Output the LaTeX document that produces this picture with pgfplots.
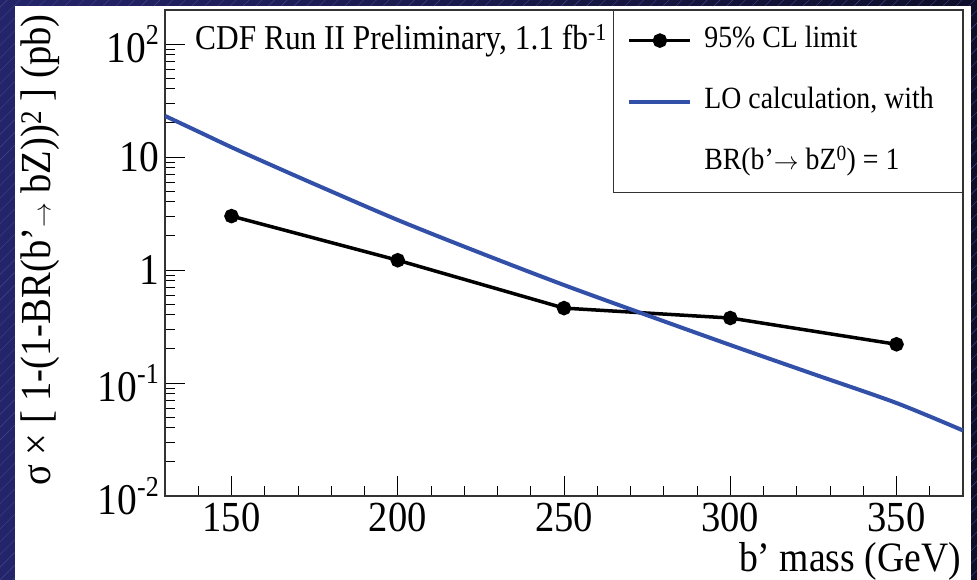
\documentclass[border=0pt]{standalone}
\usepackage{fontspec}
\setmainfont{Liberation Serif}[FakeStretch=0.9]
\usepackage{pgfplots}
\pgfplotsset{compat=1.18}
\usetikzlibrary{patterns.meta}
\definecolor{navyL}{HTML}{24246A}
\definecolor{navyR}{HTML}{0E0E2A}
\definecolor{hatch}{HTML}{44448A}
\definecolor{lblue}{HTML}{3350A8}
\newcommand\sups[1]{\raisebox{0.42em}{\fontsize{29}{29}\selectfont #1}}
\begin{document}
\begin{tikzpicture}[x=1bp,y=1bp]
\shade[left color=navyL, right color=navyR] (-165,-84) rectangle (812,496);
\fill[pattern={Lines[angle=45,distance=9bp,line width=0.4bp]}, pattern color=hatch] (-165,-84) rectangle (812,496);
\fill[white] (-150,-84) rectangle (806,490);
\begin{axis}[
  at={(0,0)}, anchor=south west, scale only axis,
  width=798bp, height=486bp,
  ymode=log, xmin=130, xmax=370, ymin=0.01, ymax=200,
  axis line style={line width=1.2bp, draw=black!80},
  tick style={black, line width=1bp},
  major tick length=20bp, minor tick length=10bp,
  tick align=inside, xtick pos=bottom, ytick pos=left,
  xtick={150,200,250,300,350},
  minor xtick={140,150,...,360},
  ytick={0.01,0.1,1,10,100},
  yticklabels={10\sups{-2},10\sups{-1},1,10,10\sups{2}},
  minor ytick={0.02,0.03,0.04,0.05,0.06,0.07,0.08,0.09,0.2,0.3,0.4,0.5,0.6,0.7,0.8,0.9,2,3,4,5,6,7,8,9,20,30,40,50,60,70,80,90,200},
  /pgf/number format/assume math mode=true,
  xticklabel style={font=\fontsize{43}{43}\selectfont, inner sep=0pt, text depth=0pt, anchor=north, yshift=-7bp},
  yticklabel style={font=\fontsize{44}{44}\selectfont, inner sep=0pt, anchor=east, xshift=-6bp},
  xlabel={b’ mass (GeV)},
  xlabel style={at={(rel axis cs:1,0)}, anchor=north east, inner sep=0pt, yshift=-46bp, xshift=-2bp, font=\fontsize{42}{42}\selectfont},
  ylabel={σ × [ 1-(1-BR(b’$\rightarrow$ bZ))\textsuperscript{2} ] (pb)},
  ylabel style={at={(rel axis cs:-0.1566,0.506)}, anchor=center, inner sep=0pt, font=\fontsize{43}{43}\selectfont},
  legend style={at={(1,1)}, anchor=north east, draw=black!80, line width=1.2bp,
    inner xsep=14bp, inner ysep=15bp, row sep=31bp,
    font=\fontsize{31}{31}\selectfont,
    nodes={inner sep=0pt, text height=22bp, text depth=8bp, text width=244bp, align=flush left},
    /tikz/every odd column/.style={column sep=12bp}},
  legend cell align=left,
  legend image code/.code={\draw[mark repeat=2,mark phase=2,#1] plot coordinates {(0bp,0bp) (30.5bp,0bp) (61bp,0bp)};},
]
\addplot[black, line width=3.5bp, mark=*, mark size=5.5bp, mark options={fill=black}] coordinates {
(150,3.0) (200,1.22) (250,0.46) (300,0.376) (350,0.22)};
\addlegendentry{95\% CL limit}
\addplot[lblue, line width=4bp, smooth] coordinates {
(130,23.1) (140,16.8) (150,12.2) (160,9.0) (175,5.75) (200,2.77) (225,1.41) (250,0.736) (275,0.398) (300,0.217) (325,0.120) (350,0.0665) (370,0.038)};
\addlegendentry{LO calculation, with}
\addlegendimage{empty legend}
\addlegendentry{BR(b’$\rightarrow$ bZ\textsuperscript{0}) = 1}
\node[anchor=base west, inner sep=0pt, font=\fontsize{35}{35}\selectfont] at (rel axis cs:0,1) [xshift=30bp, yshift=-40bp] {CDF Run II Preliminary, 1.1 fb\textsuperscript{-1}};
\end{axis}
\pgfresetboundingbox
\useasboundingbox (-165,-84) rectangle (812,496);
\end{tikzpicture}
\end{document}
